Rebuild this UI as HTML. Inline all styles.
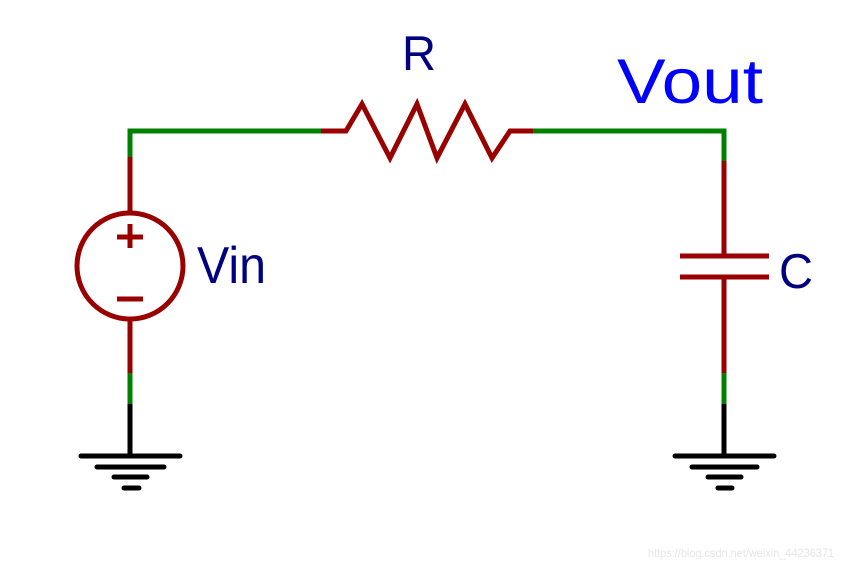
<!DOCTYPE html>
<html><head><meta charset="utf-8"><style>html,body{margin:0;padding:0;background:#fff;}svg{display:block}</style></head>
<body>
<svg width="841" height="568" viewBox="0 0 841 568" xmlns="http://www.w3.org/2000/svg" font-family="Liberation Sans, sans-serif">
<g fill="none" stroke-width="5" stroke-linecap="butt">
<!-- left branch -->
<polyline points="130,158 130,131 322,131" stroke="#008000" stroke-linejoin="miter"/>
<line x1="130" y1="157" x2="130" y2="213" stroke="#990000"/>
<circle cx="130" cy="266" r="53" stroke="#990000"/>
<line x1="130" y1="319" x2="130" y2="374" stroke="#990000"/>
<line x1="130" y1="373" x2="130" y2="405" stroke="#008000"/>
<line x1="130" y1="404" x2="130" y2="456" stroke="#000"/>
<line x1="117" y1="237" x2="143" y2="237" stroke="#990000"/>
<line x1="130" y1="224" x2="130" y2="248" stroke="#990000"/>
<line x1="117" y1="299" x2="143" y2="299" stroke="#990000"/>
<!-- resistor -->
<polyline points="321,131 346,131 362,104 390,158 417,104 437,158 465,104 492,158 510,131 534,131" stroke="#990000" stroke-linejoin="miter"/>
<polyline points="533,131 724,131 724,162" stroke="#008000"/>
<!-- right branch -->
<line x1="724" y1="161" x2="724" y2="256" stroke="#990000"/>
<line x1="680" y1="256" x2="769" y2="256" stroke="#990000"/>
<line x1="680" y1="277" x2="769" y2="277" stroke="#990000"/>
<line x1="724" y1="277" x2="724" y2="374" stroke="#990000"/>
<line x1="724" y1="373" x2="724" y2="405" stroke="#008000"/>
<line x1="724" y1="404" x2="724" y2="456" stroke="#000"/>
</g>
<g stroke="#000" stroke-width="5" stroke-linecap="round">
<line x1="81" y1="456" x2="180" y2="456"/>
<line x1="97" y1="467" x2="164" y2="467"/>
<line x1="114" y1="477" x2="147" y2="477"/>
<line x1="124" y1="488" x2="139" y2="488"/>
<line x1="675" y1="456" x2="774" y2="456"/>
<line x1="692" y1="467" x2="757" y2="467"/>
<line x1="708" y1="477" x2="741" y2="477"/>
<line x1="718" y1="488" x2="732" y2="488"/>
</g>
<text x="402" y="70" font-size="49" fill="#000080" textLength="34" lengthAdjust="spacingAndGlyphs">R</text>
<text x="617" y="103" font-size="63" fill="#0000ff" textLength="146" lengthAdjust="spacingAndGlyphs">Vout</text>
<text x="197" y="283" font-size="52" fill="#000080" textLength="69" lengthAdjust="spacingAndGlyphs">Vin</text>
<text x="779" y="288" font-size="49" fill="#000080" textLength="34" lengthAdjust="spacingAndGlyphs">C</text>
<text x="648" y="557" font-size="12" fill="#e6e6e6" textLength="186" lengthAdjust="spacingAndGlyphs">https://blog.csdn.net/weixin_44236371</text>
</svg>
</body></html>
